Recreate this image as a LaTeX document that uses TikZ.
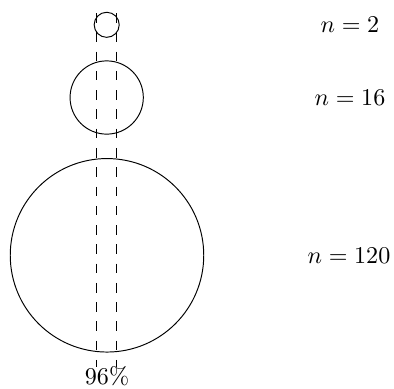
\documentclass[tikz,border=0pt]{standalone}
\usetikzlibrary{positioning}

\begin{document}
\begin{tikzpicture}[
  x=0.415pt, y=-0.415pt,
  disc/.style={draw, circle, inner sep=0pt},
  cut/.style={dash pattern=on 4pt off 4pt},
  tag/.style={anchor=center},
]
\useasboundingbox (0,0) rectangle (394,388);
% sampled populations
\node[disc, minimum size=10.4pt] (small) at (106.7,24.8) {};
\node[disc, minimum size=30.4pt] (mid) at (106.7,97.5) {};
\node[disc, minimum size=80.3pt] (big) at (107,255.3) {};
% sizes
\node[tag] (nsmall) at (350,24.8) {$n=2$};
\node[tag] (nmid) at (350,97.5) {$n=16$};
\node[tag] (nbig) at (349,255.3) {$n=120$};
% band
\coordinate (lt) at (96.7,13);
\coordinate (rt) at (116.7,13);
\coordinate (lb) at (96.7,366.5);
\coordinate (rb) at (116.7,366.5);
\node[anchor=base] (pct) at (107,384) {96\%};
\draw[cut] (lt) -- (lb);
\draw[cut] (rt) -- (rb);
\end{tikzpicture}
\end{document}
